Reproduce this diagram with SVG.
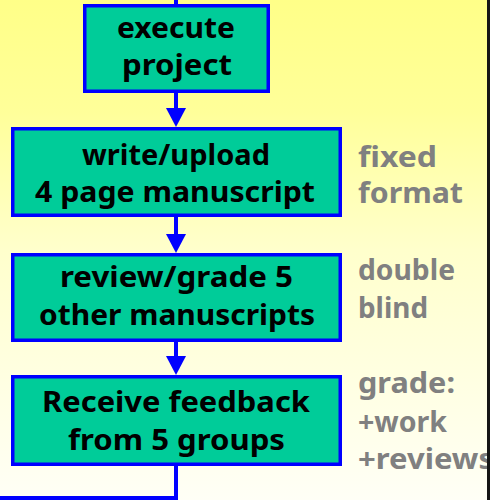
<svg xmlns="http://www.w3.org/2000/svg" width="490" height="500" viewBox="0 0 490 500">
  <defs>
    <linearGradient id="bg" x1="0" y1="0" x2="0" y2="1">
      <stop offset="0" stop-color="#FFFF88"/>
      <stop offset="0.22" stop-color="#FFFF99"/>
      <stop offset="0.5" stop-color="#FFFFCC"/>
      <stop offset="1" stop-color="#FFFFF6"/>
    </linearGradient>
    <marker id="head" markerUnits="userSpaceOnUse" markerWidth="20" markerHeight="20" viewBox="0 0 19 20" refX="12" refY="10" orient="auto">
      <path d="M0,0 L19,10 L0,20 Z" fill="#0000FF"/>
    </marker>
    <style>
      .box { fill: #00CC99; stroke: #0000FF; stroke-width: 3.5; }
      .lbl { font-family: "Comic Sans MS", "Noto Sans", "DejaVu Sans", sans-serif; font-weight: bold; font-size: 28px; fill: #000000; text-anchor: middle; }
      .note { font-family: "Comic Sans MS", "Noto Sans", "DejaVu Sans", sans-serif; font-weight: bold; font-size: 28px; fill: #808080; }
      .wire { fill: none; stroke: #0000FF; stroke-width: 4; }
    </style>
  </defs>

  <rect x="0" y="0" width="490" height="500" fill="url(#bg)"/>

  <g id="connectors">
    <line class="wire" x1="176" y1="0" x2="176" y2="6"/>
    <line class="wire" x1="176" y1="92" x2="176" y2="120" marker-end="url(#head)"/>
    <line class="wire" x1="176" y1="216" x2="176" y2="246" marker-end="url(#head)"/>
    <line class="wire" x1="176" y1="341" x2="176" y2="368" marker-end="url(#head)"/>
    <polyline class="wire" points="176,465 176,498 0,498"/>
  </g>

  <g id="execute">
    <rect class="box" x="84.75" y="5.75" width="183.5" height="85.5"/>
    <text class="lbl" x="176" y="38" textLength="118" lengthAdjust="spacingAndGlyphs">execute</text>
    <text class="lbl" x="177" y="75" textLength="110" lengthAdjust="spacingAndGlyphs">project</text>
  </g>

  <g id="write">
    <rect class="box" x="12.75" y="128.75" width="327.5" height="86.5"/>
    <text class="lbl" x="176" y="165" textLength="188" lengthAdjust="spacingAndGlyphs">write/upload</text>
    <text class="lbl" x="175" y="202" textLength="280" lengthAdjust="spacingAndGlyphs">4 page manuscript</text>
  </g>

  <g id="review">
    <rect class="box" x="12.75" y="254.75" width="327.5" height="85.5"/>
    <text class="lbl" x="176.5" y="287" textLength="233" lengthAdjust="spacingAndGlyphs">review/grade 5</text>
    <text class="lbl" x="177" y="325" textLength="276" lengthAdjust="spacingAndGlyphs">other manuscripts</text>
  </g>

  <g id="feedback">
    <rect class="box" x="12.75" y="376.75" width="327.5" height="87.5"/>
    <text class="lbl" x="176" y="412" textLength="268" lengthAdjust="spacingAndGlyphs">Receive feedback</text>
    <text class="lbl" x="176.5" y="450" textLength="217" lengthAdjust="spacingAndGlyphs">from 5 groups</text>
  </g>

  <g id="notes">
    <text class="note" x="358" y="167" textLength="79" lengthAdjust="spacingAndGlyphs">fixed</text>
    <text class="note" x="358" y="203" textLength="105" lengthAdjust="spacingAndGlyphs">format</text>
    <text class="note" x="358" y="280" textLength="97" lengthAdjust="spacingAndGlyphs">double</text>
    <text class="note" x="358" y="318" textLength="70" lengthAdjust="spacingAndGlyphs">blind</text>
    <text class="note" x="358" y="393" textLength="97" lengthAdjust="spacingAndGlyphs">grade:</text>
    <text class="note" x="358" y="432" textLength="89" lengthAdjust="spacingAndGlyphs">+work</text>
    <text class="note" x="358" y="469" textLength="136" lengthAdjust="spacingAndGlyphs">+reviews</text>
  </g>

  <!-- dark strip along the right edge, drawn last so it trims the overhanging note -->
  <rect x="487" y="0" width="3" height="500" fill="#151515"/>
</svg>
